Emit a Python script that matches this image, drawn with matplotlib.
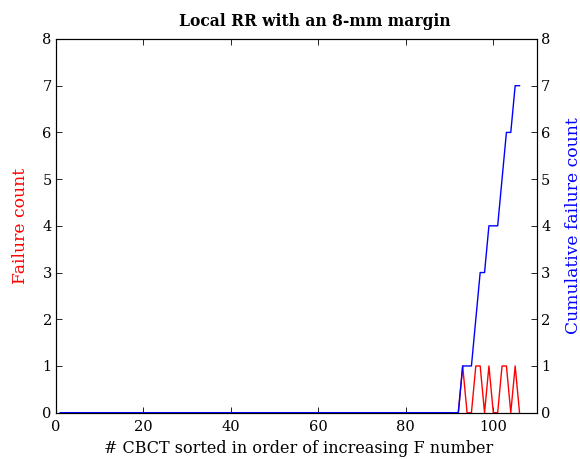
import matplotlib
matplotlib.use("Agg")
import matplotlib.pyplot as plt

plt.rcParams['font.family'] = ['DejaVu Serif']

scan_index = list(range(1, 107))
failure_count = [0] * 92 + [1, 0, 0, 1, 1, 0, 1, 0, 0, 1, 1, 0, 1, 0]
cumulative_count = [0] * 92 + [1, 1, 1, 2, 3, 3, 4, 4, 4, 5, 6, 6, 7, 7]

x_ticks = [0, 20, 40, 60, 80, 100]
y_ticks = [0, 1, 2, 3, 4, 5, 6, 7, 8]

fig = plt.figure(figsize=(5.8, 4.59), dpi=100)
ax1 = fig.add_axes([0.0966, 0.1009, 0.8293, 0.8142])
ax2 = ax1.twinx()

ax1.plot(scan_index, failure_count, color='#ff0000', lw=1.0)
ax2.plot(scan_index, cumulative_count, color='#0000ff', lw=1.0)

for ax in (ax1, ax2):
    ax.set_xlim(0, 110)
    ax.set_ylim(0, 8)
    ax.set_yticks(y_ticks)
    ax.tick_params(direction='in', labelsize=10.5, length=4, width=0.6)
    for s in ax.spines.values():
        s.set_linewidth(0.8)
ax1.set_xticks(x_ticks)
ax1.tick_params(axis='x', top=True, pad=5)
ax1.tick_params(axis='y', pad=3)
ax2.tick_params(axis='y', pad=3)

ax1.set_ylabel('Failure count', color='#ff0000', fontsize=12.3)
ax1.yaxis.set_label_coords(-0.0748, 0.5)
ax1.yaxis.label.set_va('center')
ax2.set_ylabel('Cumulative failure count', color='#0000ff', fontsize=12.3)
ax2.yaxis.set_label_coords(1.0748, 0.5)
ax2.yaxis.label.set_va('center')
ax1.set_xlabel('# CBCT sorted in order of increasing F number', fontsize=11.5)
ax1.xaxis.set_label_coords(0.504, -0.097)
ax1.xaxis.label.set_va('center')

fig.text(0.543, 0.954, 'Local RR with an 8-mm margin', fontsize=11.2,
         fontweight='bold', ha='center', va='center')

fig.savefig('out.png', dpi=100)
